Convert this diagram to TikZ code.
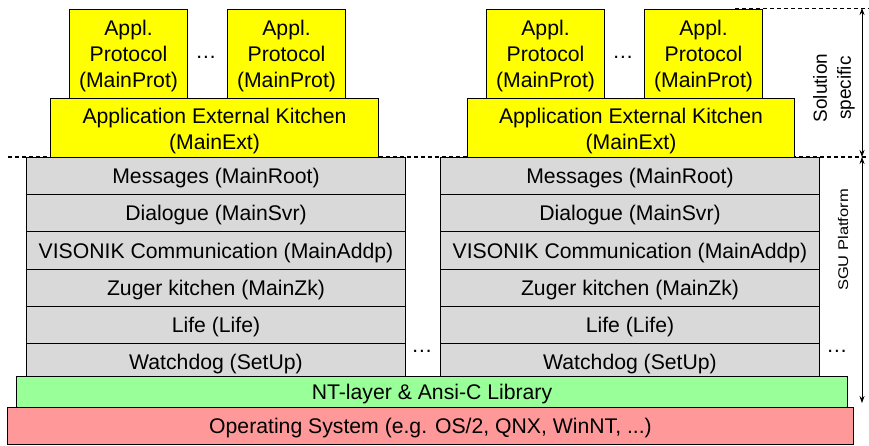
\documentclass[tikz,border=0pt]{standalone}
\usepackage{fontspec}
\setmainfont{Liberation Sans}
\usetikzlibrary{arrows.meta}
\definecolor{grayfill}{RGB}{217,217,217}
\definecolor{yel}{RGB}{255,255,0}
\definecolor{grn}{RGB}{153,255,153}
\definecolor{rd}{RGB}{255,153,153}
\begin{document}
\begin{tikzpicture}[x=1pt,y=-1pt,
  txt/.style={font=\fontsize{21.2}{25.5}\selectfont},
  box/.style={txt, draw=black, line width=1pt, anchor=north west, inner sep=0pt, align=center, text depth=0pt},
  row/.style={box, fill=grayfill, minimum width=379pt, minimum height=37.2pt},
  proto/.style={box, fill=yel, minimum width=118pt, minimum height=89pt, font=\fontsize{21.2}{26}\selectfont},
  ext/.style={box, fill=yel, minimum width=328pt, minimum height=59pt},
  lbl/.style={txt, align=center, inner sep=0pt},
  sep/.style={dash pattern=on 4pt off 3pt, line width=1.1pt},
  dim/.style={{Stealth[length=7pt,width=5pt]}-{Stealth[length=7pt,width=5pt]}, line width=0.7pt},
  dots/.style={txt}]
\useasboundingbox (0,0) rectangle (869,445);
\fill[white] (0,0) rectangle (869,445);
% dashed separators
\coordinate (dl) at (8,157);
\coordinate (dr) at (869,157);
\coordinate (tl) at (735,8);
\coordinate (tr) at (869,8);
\draw[sep] (dl) -- (dr);
\draw[sep, line width=0.8pt] (tl) -- (tr);
% left stack
\node[row] (L1) at (26,157) {Messages (MainRoot)};
\node[row] (L2) at (26,194.2) {Dialogue (MainSvr)};
\node[row] (L3) at (26,231.4) {VISONIK Communication (MainAddp)};
\node[row] (L4) at (26,268.6) {Zuger kitchen (MainZk)};
\node[row] (L5) at (26,305.8) {Life (Life)};
\node[row] (L6) at (26,343) {Watchdog (SetUp)};
% right stack
\node[row] (R1) at (440,157) {Messages (MainRoot)};
\node[row] (R2) at (440,194.2) {Dialogue (MainSvr)};
\node[row] (R3) at (440,231.4) {VISONIK Communication (MainAddp)};
\node[row] (R4) at (440,268.6) {Zuger kitchen (MainZk)};
\node[row] (R5) at (440,305.8) {Life (Life)};
\node[row] (R6) at (440,343) {Watchdog (SetUp)};
% yellow parts
\node[ext] (LE) at (50,98) {};
\node[ext, minimum width=327pt] (RE) at (467,98) {};
\node[lbl] (LEt) at ([yshift=-3pt]LE.center) {Application External Kitchen\\(MainExt)};
\node[lbl] (REt) at ([yshift=-3pt]RE.center) {Application External Kitchen\\(MainExt)};
\node[proto] (LP1) at (69,9) {Appl.\\Protocol\\(MainProt)};
\node[proto] (LP2) at (227,9) {Appl.\\Protocol\\(MainProt)};
\node[proto] (RP1) at (486,9) {Appl.\\Protocol\\(MainProt)};
\node[proto] (RP2) at (644,9) {Appl.\\Protocol\\(MainProt)};
% base layers
\node[box, fill=grn, minimum width=831pt, minimum height=31pt] (NT) at (16,376) {NT-layer \& Ansi-C Library};
\node[box, fill=rd, minimum width=846pt, minimum height=37pt] (OS) at (7,407) {Operating System (e.g. OS/2, QNX, WinNT, ...)};
% dots
\node[dots] (d1) at (206,57) {…};
\node[dots] (d2) at (623,57) {…};
\node[dots] (d3) at (422,351) {…};
\node[dots] (d4) at (837,351) {…};
% dimension arrows
\coordinate (a1) at (862,8);
\coordinate (a2) at (862,157);
\coordinate (a3) at (862,403);
\draw[dim] (a1) -- (a2);
\draw[dim] (a2) -- (a3);
\node[rotate=90, align=center, font=\fontsize{19}{24}\selectfont] (sol) at (834,88) {Solution\\specific};
\node[rotate=90, yscale=0.85, font=\fontsize{16.5}{19}\selectfont] (sgu) at (843,240) {SGU Platform};
\end{tikzpicture}
\end{document}
